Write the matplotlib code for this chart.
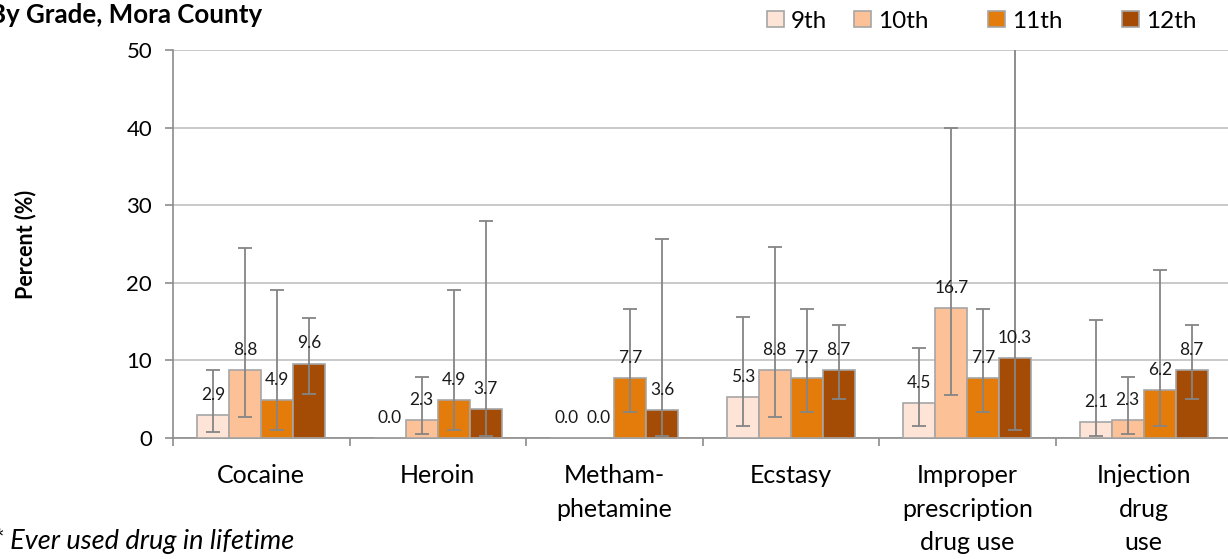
import matplotlib
matplotlib.use("Agg")
import matplotlib.pyplot as plt
import numpy as np
from matplotlib.patches import Patch

plt.rcParams['font.family'] = ['Lato', 'DejaVu Sans']

categories = ["Cocaine", "Heroin", "Metham-\nphetamine", "Ecstasy",
              "Improper\nprescription\ndrug use", "Injection\ndrug\nuse"]
grades = ["9th", "10th", "11th", "12th"]
colors = ["#FDE4D6", "#FCC197", "#E37C0A", "#A44C06"]

values = {
    "9th":  [2.9, 0.0, 0.0, 5.3, 4.5, 2.1],
    "10th": [8.8, 2.3, 0.0, 8.8, 16.7, 2.3],
    "11th": [4.9, 4.9, 7.7, 7.7, 7.7, 6.2],
    "12th": [9.6, 3.7, 3.6, 8.7, 10.3, 8.7],
}
ci_low = {
    "9th":  [0.8, None, None, 1.6, 1.6, 0.2],
    "10th": [2.7, 0.5, None, 2.7, 5.6, 0.5],
    "11th": [1.0, 1.0, 3.3, 3.3, 3.3, 1.5],
    "12th": [5.7, 0.3, 0.3, 5.0, 1.0, 5.0],
}
ci_high = {
    "9th":  [8.7, None, None, 15.6, 11.6, 15.2],
    "10th": [24.5, 7.8, None, 24.6, 40.0, 7.8],
    "11th": [19.1, 19.1, 16.6, 16.6, 16.6, 21.7],
    "12th": [15.4, 28.0, 25.6, 14.5, 60.0, 14.5],
}

W, H = 1228, 559
fig = plt.figure(figsize=(W / 100, H / 100), dpi=100)
ax = fig.add_axes([173 / W, (H - 438) / H, (1232 - 173) / W, 388 / H])

n = len(categories)
x = np.arange(n)
bw = 0.181
for i, g in enumerate(grades):
    pos = x + (i - 1.5) * bw
    ax.bar(pos, values[g], width=bw, color=colors[i], edgecolor="#A6A6A6",
           linewidth=1.2, zorder=3)
    for j in range(n):
        lo, hi = ci_low[g][j], ci_high[g][j]
        if lo is not None:
            v = values[g][j]
            ax.errorbar(pos[j], v, yerr=[[v - lo], [hi - v]], fmt="none",
                        ecolor="#858585", elinewidth=1.3, capsize=4.7,
                        capthick=1.3, zorder=4)
        ax.annotate(f"{values[g][j]:.1f}", (pos[j], values[g][j]),
                    xytext=(0, 14.5), textcoords="offset points",
                    ha="center", va="center", fontsize=12.5, color="#1a1a1a",
                    zorder=5)

ax.set_ylim(0, 50)
ax.set_xlim(-0.5, n - 0.5)
ax.set_yticks(np.arange(0, 51, 10))
ax.yaxis.grid(True, color="#C0C0C0", linewidth=1.2, zorder=0)
ax.set_axisbelow(True)
ax.set_xticks(np.arange(-0.5, n, 1.0))
ax.set_xticklabels([])
ax.set_xticks(x, minor=True)
ax.set_xticklabels(categories, minor=True, fontsize=18, linespacing=1.55)
ax.tick_params(axis="x", which="major", length=6, color="#8C8C8C", width=1.2)
ax.tick_params(axis="x", which="minor", length=0, pad=19)
ax.tick_params(axis="y", length=6, color="#8C8C8C", width=1.2, labelsize=16, pad=9)
for s in ["top", "right"]:
    ax.spines[s].set_visible(False)
for s in ["left", "bottom"]:
    ax.spines[s].set_color("#8C8C8C")
    ax.spines[s].set_linewidth(1.2)

ax.set_ylabel("Percent (%)", fontsize=15.5, fontweight="bold")
ax.yaxis.set_label_coords((36 - 173) / 1059, 0.5)

fig.text(-11 / W, 1 - 15 / H, "By Grade, Mora County", fontsize=18.6,
         fontweight="bold", va="center", ha="left")
fig.text(-7 / W, 1 - 541 / H, "* Ever used drug in lifetime", fontsize=19.5,
         style="italic", va="center", ha="left")

legend_x = [767, 854, 988, 1122]
for i, g in enumerate(grades):
    h = Patch(facecolor=colors[i], edgecolor="#A6A6A6", linewidth=1.2)
    leg = fig.legend([h], [g], loc="center left",
                     bbox_to_anchor=(legend_x[i] / W, 1 - 21 / H),
                     frameon=False, fontsize=17.5, handlelength=0.68,
                     handleheight=0.68, handletextpad=0.3, borderpad=0,
                     borderaxespad=0)

fig.savefig("out.png", dpi=100)
